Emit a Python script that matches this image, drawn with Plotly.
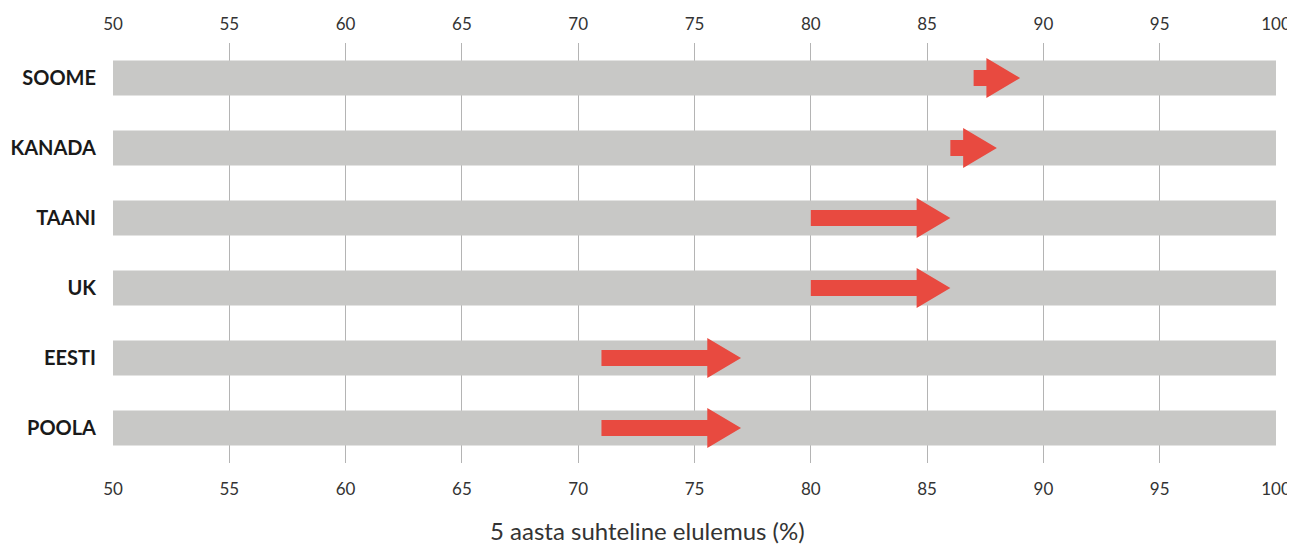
import plotly.graph_objects as go

countries = ["SOOME", "KANADA", "TAANI", "UK", "EESTI", "POOLA"]
start_vals = [87, 86, 80, 80, 71, 71]
end_vals = [89, 88, 86, 86, 77, 77]
axis_min = 50
axis_max = 100
tick_vals = list(range(50, 101, 5))
x_title = "5 aasta suhteline elulemus (%)"

RED = "#e84a40"
GREY = "#c8c8c6"
GRID = "#b4b4b4"
FONT = "Lato"

# page has an 8px body margin, so the figure is sized to fill the remaining window
PAGE_OFF = 8
W, H = 1295 - PAGE_OFF, 545 - PAGE_OFF
ML, MR, MT, MB = 113 - PAGE_OFF, 19, 43 - PAGE_OFF, 82

ypos = list(range(len(countries)))

fig = go.Figure()

# background bars spanning full range
fig.add_trace(go.Bar(
    y=ypos, x=[axis_max - axis_min] * len(countries), base=[axis_min] * len(countries),
    orientation="h", width=0.5, marker=dict(color=GREY, line=dict(width=0)),
    hoverinfo="skip", showlegend=False,
))

# arrows as polygons built from data
shaft = 0.115
head_h = 0.287
head_len = 1.45
for y, x0, x1 in zip(ypos, start_vals, end_vals):
    xb = x1 - head_len
    xs = [x0, xb, xb, x1, xb, xb, x0, x0]
    ys = [y - shaft, y - shaft, y - head_h, y, y + head_h, y + shaft, y + shaft, y - shaft]
    fig.add_trace(go.Scatter(
        x=xs, y=ys, mode="lines", fill="toself", fillcolor=RED,
        line=dict(width=0, color=RED), hoverinfo="skip", showlegend=False,
    ))

# invisible trace for top axis
fig.add_trace(go.Scatter(x=[axis_min, axis_max], y=[0, 0], xaxis="x2", mode="markers",
                         marker=dict(opacity=0), hoverinfo="skip", showlegend=False))

plot_w = W - ML - MR
title_x = (1295 / 2 - PAGE_OFF - ML) / plot_w

fig.update_layout(
    width=W, height=H,
    margin=dict(l=ML, r=MR, t=MT, b=MB, autoexpand=False),
    plot_bgcolor="white", paper_bgcolor="white",
    font=dict(family=FONT, color="#333333"),
    xaxis=dict(range=[axis_min, axis_max], tickvals=tick_vals, showgrid=True,
               gridcolor=GRID, gridwidth=1, zeroline=False, showline=False,
               automargin=False,
               ticks="", ticklabelstandoff=14, tickfont=dict(size=17, color="#333333")),
    xaxis2=dict(range=[axis_min, axis_max], tickvals=tick_vals, overlaying="x",
                side="top", matches="x", showgrid=False, zeroline=False, showline=False,
                automargin=False,
                ticks="", ticklabelstandoff=9, tickfont=dict(size=17, color="#333333")),
    yaxis=dict(range=[len(countries) - 0.5, -0.5], tickvals=ypos,
               ticktext=["<b>" + c + "</b>" for c in countries],
               showgrid=False, zeroline=False, showline=False, ticks="",
               automargin=False, ticklabelstandoff=16,
               tickfont=dict(size=20, color="#1a1a1a", family=FONT)),
    annotations=[dict(text=x_title, xref="paper", yref="paper", x=title_x, y=-0.16,
                      xanchor="center", yanchor="middle", showarrow=False,
                      font=dict(family=FONT, size=24, color="#333333"))],
)

fig.write_html("out.html")
